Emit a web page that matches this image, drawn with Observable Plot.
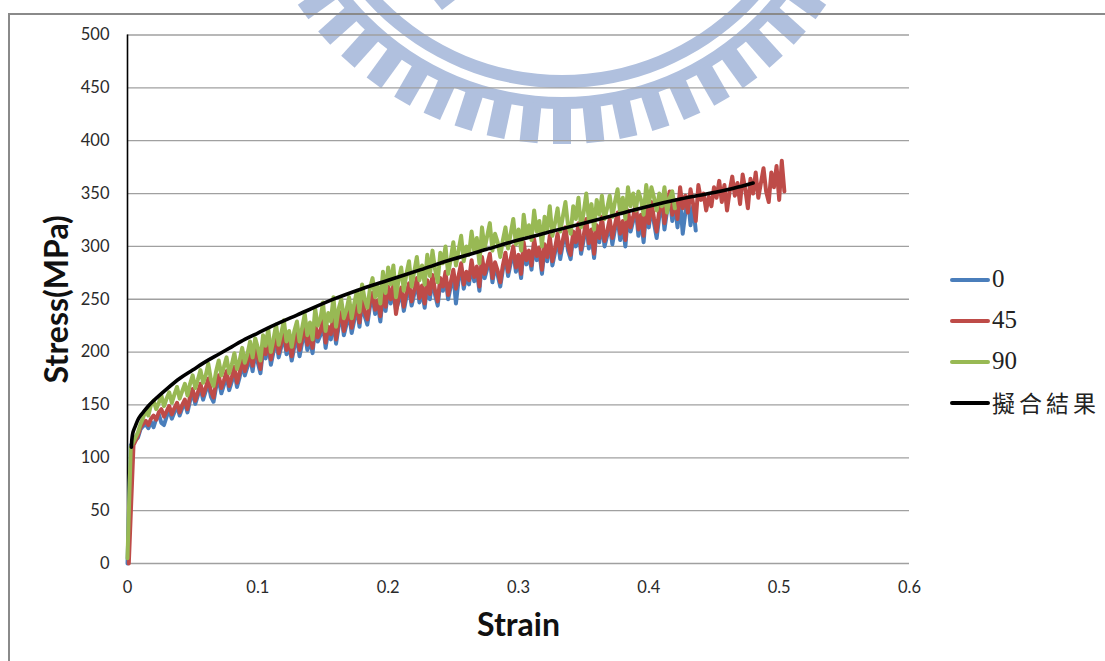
<!DOCTYPE html>
<html><head><meta charset="utf-8">
<script src="https://cdn.jsdelivr.net/npm/d3@7"></script>
<script src="https://cdn.jsdelivr.net/npm/@observablehq/plot@0.6"></script>
<style>
html,body{margin:0;padding:0;background:#fff;width:1105px;height:661px;overflow:hidden}
#wrap{position:relative;width:1105px;height:661px;overflow:hidden}
#wm,#chart{position:absolute;left:0;top:0}
#chart svg{background:transparent;display:block}
#frame{position:absolute;left:8px;top:13px;width:1110px;height:700px;border:2px solid #8a8a8a;box-sizing:border-box}
.lg{position:absolute;left:950px;font:25px "Liberation Serif",serif;color:#222;line-height:28px;white-space:nowrap}
.lg i{position:absolute;left:0;top:13px;width:40px;height:3.5px;border-radius:2px}
.lg span{position:absolute;left:42px;top:0}
</style></head><body>
<div id="wrap"><svg id="wm" width="1105" height="661"></svg><div id="frame"></div><div id="chart"></div><div id="legend"></div></div>
<script>
const yTicks=[0,50,100,150,200,250,300,350,400,450,500];
const xTicks=[0,0.1,0.2,0.3,0.4,0.5,0.6];
const seriesNames=["0","45","90","擬合結果"];
const seriesColors=["#4a7ebb","#be4b48","#98b954","#000000"];
// strain in thousandths
const strainGrid=[8,10,12,14,16,18,20,22,24,26,28,30,32,34,36,38,40,42,44,46,
48,50,52,54,56,58,60,62,64,66,68,70,72,74,76,78,80,82,84,86,
88,90,92,94,96,98,100,102,104,106,108,110,112,114,116,118,120,122,124,126,
128,130,132,134,136,138,140,142,144,146,148,150,152,154,156,158,160,162,164,166,
168,170,172,174,176,178,180,182,184,186,188,190,192,194,196,198,200,202,204,206,
208,210,212,214,216,218,220,222,224,226,228,230,232,234,236,238,240,242,244,246,
248,250,252,254,256,258,260,262,264,266,268,270,272,274,276,278,280,282,284,286,
288,290,292,294,296,298,300,302,304,306,308,310,312,314,316,318,320,322,324,326,
328,330,332,334,336,338,340,342,344,346,348,350,352,354,356,358,360,362,364,366,
368,370,372,374,376,378,380,382,384,386,388,390,392,394,396,398,400,402,404,406,
408,410,412,414,416,418,420,422,424,426,428,430,432,434,436,438,440,442,444,446,
448,450,452,454,456,458,460,462,464,466,468,470,472,474,476,478,480,482,484,486,
488,490,492,494,496,498,500,502,504];
const stress0=[119,127,130,132,128,134,129,137,141,133,131,139,145,137,143,149,140,147,152,143,
154,162,151,159,166,155,163,171,158,153,167,174,161,169,178,164,172,182,167,176,
189,178,186,196,182,199,190,180,202,194,208,188,200,212,195,205,216,198,207,192,
205,214,196,209,220,202,212,199,224,210,216,228,204,220,212,232,208,224,236,216,
226,236,218,230,242,224,248,234,226,243,252,236,245,229,254,239,258,246,260,240,
248,257,239,252,261,244,255,266,247,259,242,264,250,269,254,244,266,258,272,250,
262,274,246,268,280,260,272,264,283,267,277,258,286,270,279,289,266,281,273,262,
278,290,272,284,296,276,288,270,300,283,292,278,303,287,295,274,298,286,306,282,
294,308,288,302,314,296,288,310,300,318,293,306,322,298,312,289,316,304,324,300,
310,322,302,316,328,306,320,300,330,314,324,336,310,326,304,334,318,338,322,308,
328,342,316,334,348,324,340,318,344,312,332,346,320,338,315];
const stress45=[121,129,132,135,131,137,140,136,143,146,139,144,149,141,147,152,143,150,155,146,
158,165,154,162,170,159,166,175,163,157,171,178,166,173,182,168,176,186,171,180,
194,182,190,200,187,203,195,184,206,198,212,193,204,216,199,209,220,202,211,196,
210,218,202,213,224,207,216,204,228,214,220,231,209,224,217,235,212,228,238,220,
230,240,223,234,245,228,252,238,231,247,256,240,249,234,258,243,262,250,264,236,
252,261,243,256,265,248,259,270,251,263,246,268,255,273,258,248,270,262,276,254,
266,278,260,272,284,264,276,268,287,271,281,262,290,274,283,293,270,285,277,266,
282,294,276,288,300,280,292,274,304,287,296,282,307,291,299,278,302,290,310,286,
298,312,294,306,318,300,292,314,304,322,297,310,326,303,316,293,320,308,328,305,
314,326,308,320,332,312,324,306,334,318,328,340,316,330,310,338,322,342,326,314,
334,346,322,338,352,330,344,326,356,336,348,332,354,340,324,358,344,350,334,347,
338,356,346,362,342,358,334,352,366,348,360,340,368,354,336,364,350,370,346,360,
374,352,342,370,356,376,344,381,352];
const stress90=[124,132,138,145,140,150,154,146,152,159,149,156,162,152,160,167,156,163,170,159,
170,178,166,174,183,171,178,189,174,168,182,192,178,186,195,180,188,199,184,192,
204,190,198,210,195,213,204,192,216,206,222,200,212,226,207,218,230,210,220,205,
220,229,210,223,236,216,228,212,241,225,231,247,220,237,229,252,224,241,250,232,
240,252,232,246,258,238,264,250,242,260,270,252,262,246,276,256,280,264,282,252,
268,280,258,274,286,262,276,290,268,282,264,292,272,296,278,266,294,284,300,274,
288,304,282,296,310,286,300,292,314,296,308,284,318,298,310,322,296,312,304,290,
306,318,298,312,326,302,316,296,330,310,320,306,334,314,324,300,328,316,338,310,
322,336,314,328,342,320,312,338,326,346,318,332,350,324,340,316,344,330,348,326,
336,348,328,342,354,332,346,326,356,338,350,334,352,344,330,358,340,356,346,334,
350,338,356,332,346,352,336];
const startStrain=[[0,0.0025],[0.001,0.0046],[0,0.0025]];
const startStress=[[0,112],[0,112],[5,110]];
const fitStrain=[0.003,0.0032,0.0036,0.004,0.005,0.006,0.008,0.01,0.012,0.016,0.02,0.03,0.04,0.05,0.06,0.07,0.08,0.09,0.1,0.11,0.13,0.16,0.18,0.2,0.225,0.25,0.275,0.3,0.325,0.35,0.375,0.4,0.425,0.45,0.465,0.48];
const fitStress=[110,115,120,123,127,130,136,140,143,149,154,165,175,183,191,198,205,212,218,224,235,251,260,268,278,288,297,306,314,322,330,338,345,351,355,360];

const series=(k,vals)=>[
  ...startStrain[k].map((x,i)=>({x,y:startStress[k][i]})),
  ...vals.map((y,i)=>({x:strainGrid[i]/1000,y}))
];
const lineOpts=(k)=>({x:"x",y:"y",stroke:seriesColors[k],strokeWidth:4,strokeLinejoin:"round",strokeLinecap:"round",curve:"linear"});

const plot=Plot.plot({
  width:1105,height:661,
  marginLeft:127,marginRight:196,marginTop:34.5,marginBottom:98,
  style:{background:"transparent",overflow:"visible"},
  x:{domain:[0,0.6],axis:null},
  y:{domain:[0,500],axis:null},
  marks:[
    Plot.ruleY(yTicks,{stroke:"#a0a0a0",strokeWidth:1.3}),
    Plot.ruleX([0],{y1:0,y2:500,stroke:"#000",strokeWidth:1.6}),
    Plot.axisY(yTicks,{tickSize:0,tickPadding:18,label:null,fontSize:16.5,fontFamily:"Lato",color:"#2a2a2a",anchor:"left"}),
    Plot.axisX(xTicks,{tickSize:0,tickPadding:18,label:null,fontSize:16.5,fontFamily:"Lato",color:"#2a2a2a",anchor:"bottom",tickFormat:d=>String(d)}),
    Plot.line(series(0,stress0),lineOpts(0)),
    Plot.line(series(1,stress45),lineOpts(1)),
    Plot.line(series(2,stress90),lineOpts(2)),
    Plot.line(fitStrain.map((x,i)=>({x,y:fitStress[i]})),{x:"x",y:"y",stroke:"#000",strokeWidth:3.6,strokeLinecap:"round",strokeLinejoin:"round",curve:"monotone-x"}),
    Plot.text(["Strain"],{frameAnchor:"bottom",dy:72,fontSize:32,fontWeight:700,fontFamily:"Lato",fill:"#111"}),
    Plot.text(["Stress(MPa)"],{frameAnchor:"left",textAnchor:"middle",dx:-70,rotate:-90,fontSize:32,fontWeight:700,fontFamily:"Lato",fill:"#111"})
  ]
});
document.getElementById("chart").append(plot);

// Decorative watermark behind the chart
const wm=d3.select("#wm");
const cx=562,cy=-176,wmColor="#b0c0de";
const g=wm.append("g").attr("transform",`translate(${cx},${cy})`).attr("fill",wmColor);
const arc=d3.arc();
[[251,264],[273,285]].forEach(([a,b])=>g.append("path").attr("d",arc({innerRadius:a,outerRadius:b,startAngle:0,endAngle:2*Math.PI})));
d3.range(-10,11).forEach(k=>{
  g.append("rect").attr("x",-9).attr("y",280).attr("width",18).attr("height",40)
   .attr("transform",`rotate(${-k*6})`);
});
wm.append("path").attr("d","M434,0L442,10L455,0Z").attr("fill",wmColor);

const lg=document.getElementById("legend");
const tops=[265,306,347,388];
seriesNames.forEach((n,i)=>{
  const d=document.createElement("div");d.className="lg";d.style.top=tops[i]+"px";
  const sw=document.createElement("i");sw.style.background=seriesColors[i];d.append(sw);
  const t=document.createElement("span");t.textContent=n;
  if(i===3){t.style.fontFamily='"Noto Sans CJK TC"';t.style.fontSize='23px';t.style.letterSpacing='4px';}
  d.append(t);lg.append(d);
});
</script></body></html>
